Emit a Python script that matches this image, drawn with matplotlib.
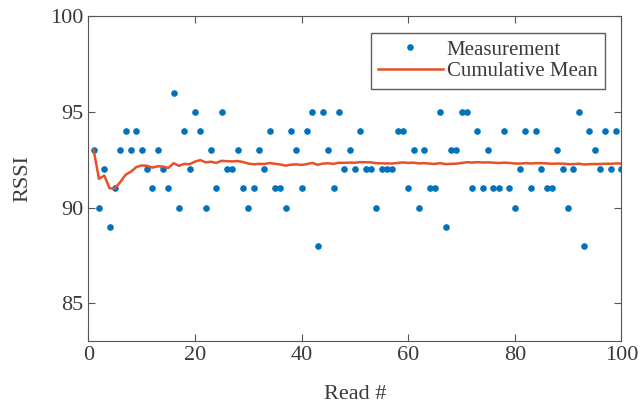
import matplotlib
matplotlib.use('Agg')
import matplotlib.pyplot as plt
import numpy as np

# lecturas RSSI (read # 1..100)
reads = np.arange(1, 101)
rssi = [93, 90, 92, 89, 91, 93, 94, 93, 94, 93,
        92, 91, 93, 92, 91, 96, 90, 94, 92, 95,
        94, 90, 93, 91, 95, 92, 92, 93, 91, 90,
        91, 93, 92, 94, 91, 91, 90, 94, 93, 91,
        94, 95, 88, 95, 93, 91, 95, 92, 93, 92,
        94, 92, 92, 90, 92, 92, 92, 94, 94, 91,
        93, 90, 93, 91, 91, 95, 89, 93, 93, 95,
        95, 91, 94, 91, 93, 91, 91, 94, 91, 90,
        92, 94, 91, 94, 92, 91, 91, 93, 92, 90,
        92, 95, 88, 94, 93, 92, 94, 92, 94, 92]
rssi = np.array(rssi, dtype=float)

# media acumulada
cum_mean = np.cumsum(rssi) / reads

plt.rcParams['font.family'] = ['Liberation Serif', 'DejaVu Serif']
txt_color = '#3a3a3a'

fig = plt.figure(figsize=(6.4, 4.05), dpi=100)
ax = fig.add_axes([0.138, 0.157, 0.833, 0.803])

ax.plot(reads, rssi, '.', color='#0072BD', markersize=7.5, label='Measurement')
ax.plot(reads, cum_mean, '-', color='#E8502A', linewidth=1.8, label='Cumulative Mean')

ax.set_xlim(0, 100)
ax.set_ylim(83, 100)
ax.set_xticks([0, 20, 40, 60, 80, 100])
ax.set_yticks([85, 90, 95, 100])
ax.tick_params(direction='in', top=True, right=True, labelsize=16,
               colors='#555555', labelcolor=txt_color, length=5)
for s in ax.spines.values():
    s.set_color('#555555')

ax.set_xlabel('Read #', fontsize=16, color=txt_color, labelpad=14)
ax.set_ylabel('RSSI', fontsize=16, color=txt_color, labelpad=13)

leg = ax.legend(loc='upper right', fontsize=15, frameon=True, fancybox=False,
                edgecolor='#333333', borderpad=0.35, handlelength=3.1,
                handletextpad=0.2, labelspacing=0.1, borderaxespad=0.8)
for t in leg.get_texts():
    t.set_color(txt_color)

plt.savefig('out.png', dpi=100)
